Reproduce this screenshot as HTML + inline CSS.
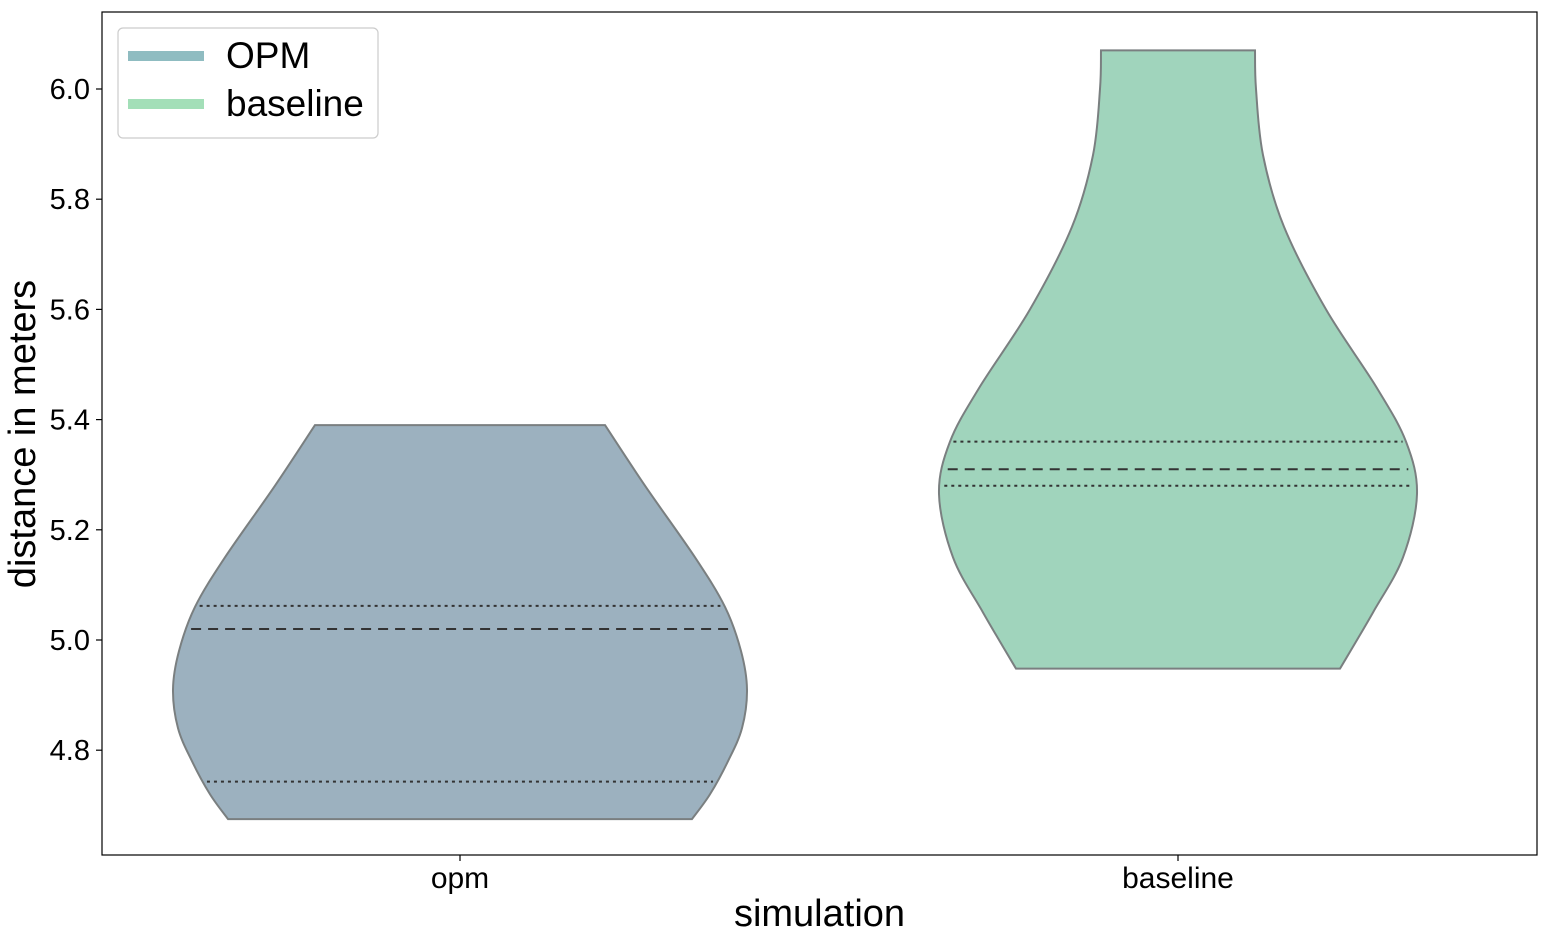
<!DOCTYPE html>
<html><head><meta charset="utf-8"><style>
body{margin:0;background:#fff;}
svg{font-family:"Liberation Sans","DejaVu Sans",sans-serif;}
</style></head><body>
<svg id="chart" width="1552" height="941">
<g id="plot"></g>
</svg>
<script>
const categories=["opm","baseline"];
const opmValues=[4.675,4.72,4.78,4.84,4.91,4.98,5.06,5.15,5.28,5.39];
const opmDensity=[232,250,268,282,287,281,265,235,185,145];
const baseValues=[4.948,5.05,5.15,5.265,5.36,5.46,5.6,5.75,5.88,6.0,6.07];
const baseDensity=[162,195,225,239,228,198,148,106,85,78,77];
const opmQuartiles=[4.743,5.02,5.062];
const baseQuartiles=[5.28,5.31,5.36];
const yTicks=[4.8,5.0,5.2,5.4,5.6,5.8,6.0];
const fills=["#9cb1bf","#a0d4bc"];
const legendLabels=["OPM","baseline"];
const legendColors=["#8fbcc1","#a3dfb8"];

const NS="http://www.w3.org/2000/svg";
const L=102,R=1537,T=12,B=855;
const y=v=>640-(v-5.0)*551;
const xc=i=>[460,1178][i];
const w=d=>d;
const g=document.getElementById('plot');
function mk(t,a,p){const e=document.createElementNS(NS,t);for(const k in a)e.setAttribute(k,a[k]);(p||g).appendChild(e);return e;}

function interp(vals,dens,v){for(let i=0;i<vals.length-1;i++){if(v>=vals[i]&&v<=vals[i+1]){const t=(v-vals[i])/(vals[i+1]-vals[i]);return dens[i]+t*(dens[i+1]-dens[i]);}}return dens[dens.length-1];}
function smoothPath(pts){let d="M"+pts[0][0]+","+pts[0][1];for(let i=0;i<pts.length-1;i++){const p0=pts[Math.max(i-1,0)],p1=pts[i],p2=pts[i+1],p3=pts[Math.min(i+2,pts.length-1)];
const c1=[p1[0]+(p2[0]-p0[0])/6,p1[1]+(p2[1]-p0[1])/6],c2=[p2[0]-(p3[0]-p1[0])/6,p2[1]-(p3[1]-p1[1])/6];d+="C"+c1+" "+c2+" "+p2;}return d;}
function violin(i,vals,dens,q){
  const cx=xc(i);
  const right=vals.map((v,k)=>[cx+w(dens[k]),y(v)]);
  const left=vals.map((v,k)=>[cx-w(dens[k]),y(v)]).reverse();
  let d=smoothPath(right)+" L"+left[0]+" "+smoothPath(left).slice(1)+"Z";
  const p=mk('path',{d:d,fill:fills[i],stroke:"#7a7f80","stroke-width":2});
  
  
  q.forEach((v,k)=>{const hw=w(interp(vals,dens,v))*0.985;
    const ln=mk('line',{x1:cx-hw,x2:cx+hw,y1:y(v),y2:y(v),stroke:"#333","stroke-width":2,"stroke-dasharray":k==1?"10,7":"3,4"});
    
    });
}
violin(0,opmValues,opmDensity,opmQuartiles);
violin(1,baseValues,baseDensity,baseQuartiles);

const fr=mk('rect',{x:L,y:T,width:R-L,height:B-T,fill:"none",stroke:"#000","stroke-width":1.2});


yTicks.forEach(t=>{
  const tk=mk('line',{x1:L-6,x2:L,y1:y(t),y2:y(t),stroke:"#000","stroke-width":1.2});
  
  
  const tx=mk('text',{x:L-12,y:y(t)+10,"text-anchor":"end","font-size":29});
  tx.textContent=t.toFixed(1);
  
  
});
categories.forEach((c,i)=>{
  const tk=mk('line',{x1:xc(i),x2:xc(i),y1:B,y2:B+6,stroke:"#000","stroke-width":1.2});
  
  
  const tx=mk('text',{x:xc(i),y:B+33,"text-anchor":"middle","font-size":30});
  tx.textContent=c;
  
  
});
const xl=mk('text',{x:(L+R)/2,y:926,"text-anchor":"middle","font-size":38});
xl.textContent="simulation";


const yl=mk('text',{x:0,y:0,"text-anchor":"middle","font-size":38,transform:"translate(35,434) rotate(-90)"});
yl.textContent="distance in meters";



const lg=mk('g',{});


mk('rect',{x:118,y:28,width:260,height:110,rx:5,fill:"#fff",stroke:"#ccc","stroke-width":1.2},lg);
legendLabels.forEach((s,k)=>{
  const yy=56+k*48;
  const sw=mk('line',{x1:128,x2:204,y1:yy,y2:yy,stroke:legendColors[k],"stroke-width":10},lg);
  
  
  const tx=mk('text',{x:226,y:yy+12,"font-size":37},lg);
  tx.textContent=s;
  
  
});
</script>
</body></html>
